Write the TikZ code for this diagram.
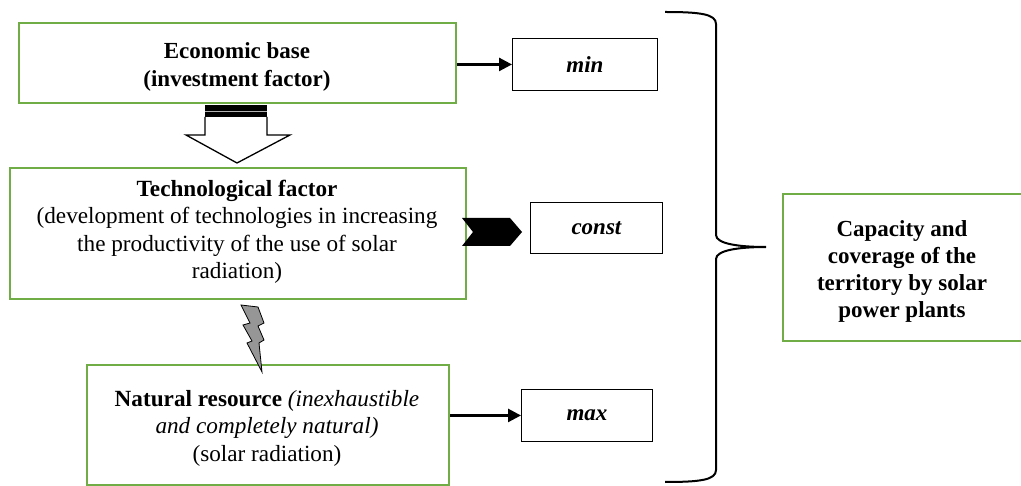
\documentclass[tikz,border=0pt]{standalone}
\usepackage{fontspec}
\setmainfont{Liberation Serif}
\usetikzlibrary{arrows.meta}
\definecolor{boxgreen}{HTML}{70AD47}
\definecolor{boltgray}{HTML}{969696}
\begin{document}
\begin{tikzpicture}[x=1pt,y=-1pt,
  txt/.style={font=\fontsize{23.2}{27.4}\selectfont, align=center, inner sep=0pt},
  gbox/.style={draw=boxgreen, line width=2pt, fill=white, inner sep=0pt, anchor=north west},
  kbox/.style={draw=black, line width=0.9pt, fill=white, inner sep=0pt, anchor=north west, font=\fontsize{23}{27.6}\selectfont\bfseries\itshape},
  conn/.style={line width=2.6pt, -{Triangle[length=13pt,width=13pt]}},
  blockarrow/.style={draw=black, line width=1.3pt, fill=white, line join=miter},
  brace/.style={draw=black, line width=2pt}
  ]
\useasboundingbox (0,0) rectangle (1021,486);
\clip (0,0) rectangle (1021,486);

% boxes
\node[gbox, minimum width=437pt, minimum height=80pt] (eco) at (18,22) {};
\node[txt, font=\fontsize{23}{27.6}\selectfont\bfseries] (ecotext) at (237,67)
  {Economic base\\(investment factor)};
\node[kbox, minimum width=145pt, minimum height=52pt] (min) at (512,38) {min};

\node[gbox, minimum width=456pt, minimum height=131pt] (tech) at (9,167) {};
\node[txt, anchor=north] (techtext) at (237,180)
  {\textbf{Technological factor}\\(development of technologies in increasing\\the productivity of the use of solar\\radiation)};
\node[kbox, minimum width=132pt, minimum height=51pt] (const) at (530,202) {const};

\node[gbox, minimum width=362pt, minimum height=120pt] (nat) at (86,364) {};
\node[txt, anchor=north] (nattext) at (267,390)
  {\textbf{Natural resource} \textit{(inexhaustible}\\\textit{and completely natural)}\\(solar radiation)};
\node[kbox, minimum width=131pt, minimum height=52pt] (max) at (521,389) {max};

\node[gbox, minimum width=242pt, minimum height=147pt] (capbox) at (782,193) {};
\node[txt, font=\fontsize{23}{27}\selectfont\bfseries] (cap) at (902,271)
  {Capacity and\\coverage of the\\territory by solar\\power plants};

% connectors
\draw[conn] (eco.east |- min.west) -- (min.west);
\draw[conn] (nat.east |- max.west) -- (max.west);

% block arrow between economic and technological
\draw[blockarrow] (205,117) -- (205,135) -- (186,135) -- (237,163) -- (290,135) -- (267,135) -- (267,117);
\fill[black] (205,105) rectangle (267,117);
\draw[gray!60, line width=0.8pt] (205,111) -- (267,111);

% chevron
\fill[black] (462,218) -- (510,218) -- (522,232) -- (510,246) -- (462,246) -- (473,232) -- cycle;

% lightning bolt
\draw[fill=boltgray, draw=black, line width=0.8pt, line join=miter]
  (241,305) -- (258,307) -- (264,323) -- (258,326) -- (264,340) -- (259,343)
  -- (262,372) -- (247,343) -- (252,341) -- (243,325) -- (250,323) -- cycle;

% brace
\draw[brace] (665,12) .. controls (700,12) and (716,14) .. (716,24)
  -- (716,235) .. controls (716,244) and (740,247) .. (766,247)
  .. controls (740,247) and (716,250) .. (716,259)
  -- (716,470) .. controls (716,480) and (700,482) .. (665,482);
\end{tikzpicture}
\end{document}
